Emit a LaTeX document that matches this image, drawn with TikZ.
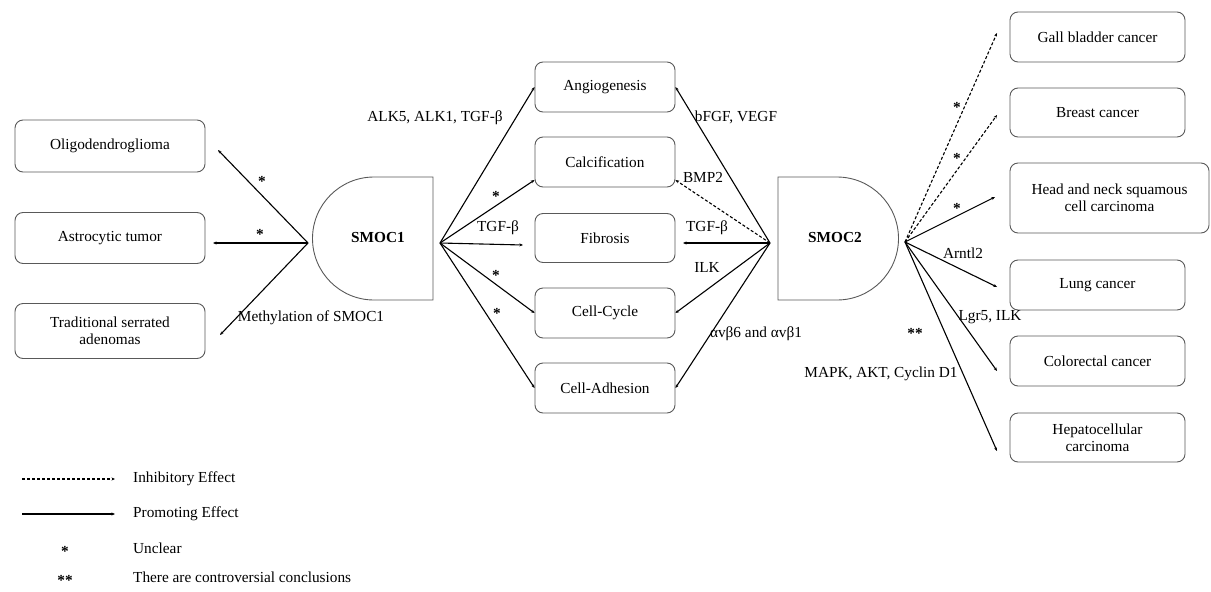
\documentclass[tikz,border=0pt]{standalone}
\usepackage{fontspec}
\setmainfont{Liberation Serif}
\usetikzlibrary{arrows.meta}
\begin{document}
\begin{tikzpicture}[x=1pt,y=-1pt,
  every node/.style={font=\fontsize{15.3}{17}\selectfont, inner sep=0pt},
  box/.style={draw=black!65, line width=0.9pt, rounded corners=8pt, align=center},
  dshape/.style={draw=black!65, line width=0.9pt},
  conn/.style={draw=black, line width=1.1pt, -{Stealth[length=3.6pt,width=3pt]}},
  inh/.style={conn, dash pattern=on 3pt off 2pt},
  star/.style={yshift=-3pt, font=\fontsize{15.3}{17}\selectfont\bfseries},
  bold/.style={font=\fontsize{15.3}{17}\selectfont\bfseries},
]
\path[use as bounding box] (0,0) rectangle (1211,592);

% ---------- left boxes
\node[box, minimum width=190pt, minimum height=52pt] (oligo) at (110,146) {Oligodendroglioma};
\node[box, minimum width=190pt, minimum height=51pt] (astro) at (110,238) {Astrocytic tumor};
\node[box, minimum width=190pt, minimum height=55pt] (tsa) at (110,331) {Traditional serrated\\adenomas};

% ---------- SMOC1
\draw[dshape] (374,177) -- (433,177) -- (433,300) -- (374,300) arc[start angle=270, end angle=90, radius=61.5pt] -- cycle;
\node[bold] (smoc1) at (378,238) {SMOC1};
\coordinate (v1L) at (308,243);
\coordinate (v1R) at (440,243);

% ---------- middle boxes
\node[box, minimum width=140pt, minimum height=50pt] (angio) at (605,87) {Angiogenesis};
\node[box, minimum width=140pt, minimum height=50pt] (calc) at (605,162) {Calcification};
\node[box, minimum width=140pt, minimum height=49pt] (fib) at (605,238) {Fibrosis};
\node[box, minimum width=140pt, minimum height=50pt] (cyc) at (605,313) {Cell-Cycle};
\node[box, minimum width=140pt, minimum height=50pt] (adh) at (605,388) {Cell-Adhesion};

% ---------- SMOC2
\draw[dshape] (837,177) -- (778,177) -- (778,300) -- (837,300) arc[start angle=270, end angle=450, radius=61.5pt] -- cycle;
\node[bold] (smoc2) at (835,238) {SMOC2};
\coordinate (v2L) at (770,243);
\coordinate (v2R) at (905,242);

% ---------- right boxes
\node[box, minimum width=175pt, minimum height=50pt] (gall) at (1097.5,37) {Gall bladder cancer};
\node[box, minimum width=175pt, minimum height=49pt] (breast) at (1097.5,112.5) {Breast cancer};
\node[box, minimum width=199pt, minimum height=70pt] (hn) at (1109.5,198) {Head and neck squamous\\cell carcinoma};
\node[box, minimum width=175pt, minimum height=50pt] (lung) at (1097.5,285) {Lung cancer};
\node[box, minimum width=175pt, minimum height=50pt] (crc) at (1097.5,361) {Colorectal cancer};
\node[box, minimum width=175pt, minimum height=49pt] (hcc) at (1097.5,437.5) {Hepatocellular\\carcinoma};

% ---------- connector end points
\coordinate (eOligo) at (218,150);
\coordinate (eAstro) at (213,243);
\coordinate (eTsa) at (220,335);
\coordinate (eFib1) at (523,245);
\coordinate (eFib2) at (683,243);
\coordinate (eGall) at (997,33);
\coordinate (eBreast) at (997,115);
\coordinate (eHn) at (995,197);
\coordinate (eLung) at (997,287);
\coordinate (eCrc) at (997,371);
\coordinate (eHcc) at (997,451);

% ---------- SMOC1 connectors
\draw[conn] (v1L) -- (eOligo);
\draw[conn] (v1L) -- (eAstro);
\draw[conn] (v1L) -- (eTsa);
\draw[conn] (v1R) -- (angio.west);
\draw[conn] (v1R) -- (calc.south west |- 0,180);
\draw[conn] (v1R) -- (eFib1);
\draw[conn] (v1R) -- (cyc.west);
\draw[conn] (v1R) -- (adh.west);

% ---------- SMOC2 left connectors
\draw[conn] (v2L) -- (angio.east);
\draw[inh] (v2L) -- (calc.south east |- 0,180);
\draw[conn] (v2L) -- (eFib2);
\draw[conn] (v2L) -- (cyc.east);
\draw[conn] (v2L) -- (adh.east);

% ---------- SMOC2 right connectors
\draw[inh] (v2R) -- (eGall);
\draw[inh] (v2R) -- (eBreast);
\draw[conn] (v2R) -- (eHn);
\draw[conn] (v2R) -- (eLung);
\draw[conn] (v2R) -- (eCrc);
\draw[conn] (v2R) -- (eHcc);

% ---------- labels
\node[star] (s1) at (262,178) {*};
\node[star] (s2) at (260,231) {*};
\node (meth) at (311,318) {Methylation of SMOC1};
\node (alk) at (435,118) {ALK5, ALK1, TGF-β};
\node[star] (s3) at (496,193) {*};
\node (tgf1) at (498,228) {TGF-β};
\node[star] (s4) at (496,272) {*};
\node[star] (s5) at (497,310) {*};
\node (bfgf) at (736,117) {bFGF, VEGF};
\node (bmp) at (703,177) {BMP2};
\node (tgf2) at (707,228) {TGF-β};
\node (ilk) at (707,267) {ILK};
\node (avb) at (756,334) {αvβ6 and αvβ1};
\node[star] (s6) at (957,104) {*};
\node[star] (s7) at (957,155) {*};
\node[star] (s8) at (957,205) {*};
\node (arntl) at (963,253) {Arntl2};
\node (lgr) at (990,317) {Lgr5, ILK};
\node[star] (s9) at (915,330) {**};
\node (mapk) at (881,374) {MAPK, AKT, Cyclin D1};

% ---------- legend
\coordinate (la1) at (22,479);
\coordinate (la2) at (115,479);
\coordinate (lb1) at (22,514);
\coordinate (lb2) at (115,514);
\draw[inh] (la1) -- (la2);
\draw[conn] (lb1) -- (lb2);
\node[anchor=west] (leg1) at (133,479) {Inhibitory Effect};
\node[anchor=west] (leg2) at (133,514) {Promoting Effect};
\node[star] (leg3s) at (65,548) {*};
\node[anchor=west] (leg3) at (133,548) {Unclear};
\node[star] (leg4s) at (65,577) {**};
\node[anchor=west] (leg4) at (133,577) {There are controversial conclusions};
\end{tikzpicture}
\end{document}
